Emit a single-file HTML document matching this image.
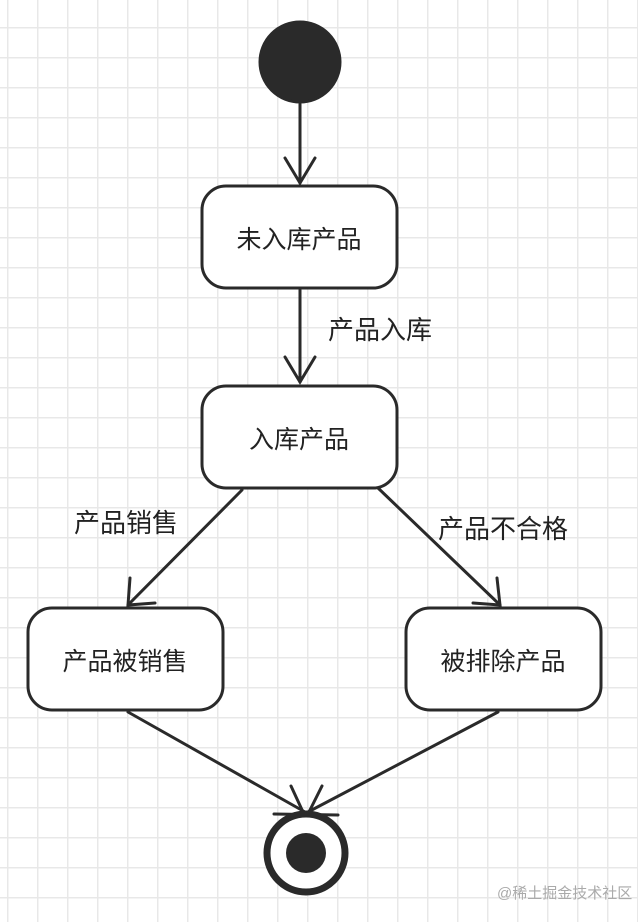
<!DOCTYPE html>
<html><head><meta charset="utf-8"><style>
body{margin:0;width:638px;height:922px;overflow:hidden;background:#fff;
background-image:linear-gradient(#e8e8e8 1.5px,transparent 1.5px),linear-gradient(90deg,#e8e8e8 1.5px,transparent 1.5px);
background-size:30px 30px;background-position:7px -3px;}
svg{position:absolute;left:0;top:0}
text{font-family:"Liberation Sans","Noto Sans CJK SC",sans-serif;fill:#222}
</style></head><body>
<svg width="638" height="922" viewBox="0 0 638 922">
<g stroke="#2a2a2a" stroke-width="3" fill="none" stroke-linecap="round">
<circle cx="300" cy="62" r="40" fill="#2a2a2a"/>
<line x1="300" y1="104" x2="300" y2="183"/><polyline points="285,158 300,183 315,158"/>
<rect x="202" y="186" width="195" height="102" rx="24" fill="#fff"/>
<line x1="300" y1="290" x2="300" y2="382"/><polyline points="285,357 300,382 315,357"/>
<rect x="202" y="386" width="195" height="102" rx="24" fill="#fff"/>
<line x1="242" y1="490" x2="128" y2="605"/><polyline points="130,578 128,605 155,603"/>
<line x1="378" y1="488" x2="500" y2="605"/><polyline points="473,603 500,605 497,578"/>
<rect x="28" y="608" width="195" height="102" rx="24" fill="#fff"/>
<rect x="406" y="608" width="195" height="102" rx="24" fill="#fff"/>
<line x1="128" y1="712" x2="305" y2="812"/><line x1="498" y1="712" x2="308" y2="812"/>
<line x1="291" y1="786" x2="303" y2="812"/><line x1="322" y1="786" x2="309" y2="812"/>
<line x1="274" y1="814" x2="338" y2="815"/>
<circle cx="306" cy="853" r="39" stroke-width="7" fill="#fff"/>
<circle cx="306" cy="853" r="20" fill="#2a2a2a" stroke="none"/>
</g>
<g font-size="25" text-anchor="middle">
<text x="299" y="248">未入库产品</text>
<text x="299" y="448">入库产品</text>
<text x="125" y="670">产品被销售</text>
<text x="503" y="670">被排除产品</text>
</g>
<g font-size="26">
<text x="328" y="339">产品入库</text>
<text x="74" y="532">产品销售</text>
<text x="438" y="538">产品不合格</text>
</g>
<text x="497" y="898" font-size="15" style="fill:#aaa">@稀土掘金技术社区</text>
</svg>
</body></html>
